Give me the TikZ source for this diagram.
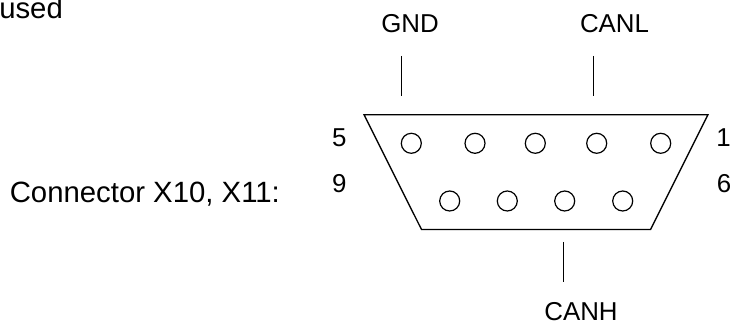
\documentclass[tikz,border=0pt]{standalone}
\usepackage{fontspec}
\setmainfont{Liberation Sans}
\usetikzlibrary{positioning}
\tikzset{
    label/.style={anchor=base, inner sep=0pt, font=\fontsize{19.4}{23}\selectfont},
    title/.style={anchor=base west, inner sep=0pt, font=\fontsize{22}{26}\selectfont},
    pin/.style={circle, draw, line width=0.9pt, minimum size=15pt, inner sep=0pt},
    shell/.style={draw, line width=1pt, line join=miter},
    tick/.style={draw, line width=0.9pt}
}
\begin{document}
\begin{tikzpicture}[x=0.75pt, y=-0.75pt]
    \useasboundingbox (0,0) rectangle (738,323);

    % Texts on the left
    \node[title] (used) at (-1,18.3) {used};
    \node[title] (heading) at (9.5,202.7) {Connector X10, X11:};

    % Signal names
    \node[label] (gnd) at (410,33) {GND};
    \node[label] (canl) at (614.5,33) {CANL};
    \node[label] (canh) at (581,320.5) {CANH};

    % Pin numbers
    \node[label] (num5) at (339.3,146.7) {5};
    \node[label] (num9) at (339.3,192.7) {9};
    \node[label] (num1) at (723.5,146.7) {1};
    \node[label] (num6) at (724,192.7) {6};

    % Connector shell
    \coordinate (tl) at (364,114.7);
    \coordinate (tr) at (708,114.7);
    \coordinate (br) at (650.5,229.5);
    \coordinate (bl) at (421.5,229.5);
    \draw[shell] (tl) -- (tr) -- (br) -- (bl) -- cycle;

    % Pins
    \foreach \n/\x in {5/411.3, 4/475, 3/535.3, 2/596.7, 1/660.7}
        \node[pin] (pin\n) at (\x,143.3) {};
    \foreach \n/\x in {9/449.7, 8/507.3, 7/564.7, 6/622.7}
        \node[pin] (pin\n) at (\x,201) {};

    % Ticks
    \coordinate (gndtop) at (401.7,56);
    \coordinate (gndbot) at (401.7,96);
    \coordinate (canltop) at (593.7,56);
    \coordinate (canlbot) at (593.7,96);
    \coordinate (canhtop) at (563.3,242);
    \coordinate (canhbot) at (563.3,282);
    \draw[tick] (gndtop) -- (gndbot);
    \draw[tick] (canltop) -- (canlbot);
    \draw[tick] (canhtop) -- (canhbot);
\end{tikzpicture}
\end{document}
